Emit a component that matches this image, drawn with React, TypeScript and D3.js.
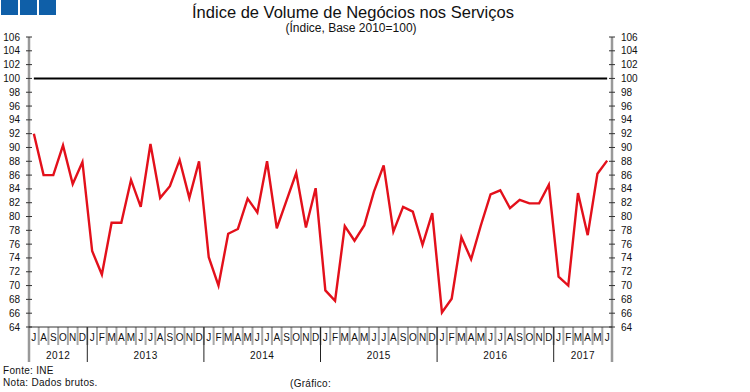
import * as d3 from 'd3';

const YEARS = ['2012', '2013', '2014', '2015', '2016', '2017'];
const MONTHS = ['J', 'F', 'M', 'A', 'M', 'J', 'J', 'A', 'S', 'O', 'N', 'D'];
// Jul 2012 .. Jun 2017
const VALUES = [
  92.0, 86.0, 86.0, 90.3, 84.7, 87.9,
  75.0, 71.6, 79.1, 79.1, 85.3, 81.4, 90.5, 82.7, 84.4, 88.2, 82.7, 88.0,
  74.1, 70.0, 77.5, 78.2, 82.6, 80.6, 88.0, 78.3, 82.3, 86.3, 78.4, 84.1,
  69.3, 67.8, 78.6, 76.5, 78.7, 83.6, 87.4, 77.8, 81.4, 80.7, 75.9, 80.5,
  66.1, 68.1, 77.0, 73.8, 78.7, 83.2, 83.8, 81.2, 82.4, 81.9, 81.9, 84.6,
  71.3, 70.0, 83.4, 77.3, 86.2, 88.1,
];
const Y_TICKS = d3.range(64, 107, 2);
const BASE = 100;

const FONT = '"Liberation Sans", Arial, sans-serif';

export default function App() {
  const width = 750;
  const height = 392;
  const left = 29;
  const right = 612;
  const top = 37;
  const bottom = 327;

  // month labels: Jul 2012 start
  const monthLabels = VALUES.map((_, i) => MONTHS[(i + 6) % 12]);
  const x = d3.scaleLinear().domain([0, VALUES.length]).range([left, right]);
  const y = d3.scaleLinear().domain([64, 106]).range([bottom, top]);

  const line = d3.line<number>()
    .x((_, i) => x(i + 0.5))
    .y(d => y(d));

  // year spans in month indexes
  const yearSpans = YEARS.map((yr, k) => {
    const start = k === 0 ? 0 : 6 + (k - 1) * 12;
    const end = k === 0 ? 6 : Math.min(start + 12, VALUES.length);
    return { yr, start, end };
  });

  return (
    <div style={{ position: 'absolute', left: 0, top: 0 }}>
      <svg width={width} height={height} style={{ display: 'block', background: '#fff' }}>
        {[0, 1, 2].map(k => (
          <rect key={k} x={1 + k * 19} y={0} width={17} height={15} fill="#0f5fa8" />
        ))}
        <text x={353} y={18} textAnchor="middle" fontFamily={FONT} fontSize={16.5} fill="#111">
          Índice de Volume de Negócios nos Serviços
        </text>
        <text x={351} y={32} textAnchor="middle" fontFamily={FONT} fontSize={12} fill="#111">
          (Índice, Base 2010=100)
        </text>

        {/* month dividers */}
        {d3.range(1, VALUES.length).map(i => (
          <line key={'m' + i} x1={x(i)} x2={x(i)} y1={bottom} y2={345} stroke="#a8a8a8" strokeWidth={2} />
        ))}
        {yearSpans.slice(1).map(s => (
          <line key={'yb' + s.yr} x1={x(s.start)} x2={x(s.start)} y1={bottom} y2={362} stroke="#222" strokeWidth={1} />
        ))}

        {/* axes */}
        <line x1={left} x2={left} y1={top} y2={362} stroke="#999" strokeWidth={2.5} />
        <line x1={right} x2={right} y1={top} y2={362} stroke="#999" strokeWidth={2.5} />
        <line x1={left} x2={right} y1={bottom} y2={bottom} stroke="#333" strokeWidth={1} />

        {Y_TICKS.map(t => (
          <g key={t}>
            <line x1={left - 3} x2={left + 3} y1={y(t)} y2={y(t)} stroke="#333" strokeWidth={1} />
            <line x1={right - 3} x2={right + 3} y1={y(t)} y2={y(t)} stroke="#333" strokeWidth={1} />
            <text x={20} y={y(t) + 3.5} textAnchor="end" fontFamily={FONT} fontSize={10} fill="#111">{t}</text>
            <text x={621} y={y(t) + 3.5} textAnchor="start" fontFamily={FONT} fontSize={10} fill="#111">{t}</text>
          </g>
        ))}

        <line x1={x(0.5)} x2={x(VALUES.length - 0.5)} y1={y(BASE)} y2={y(BASE)} stroke="#000" strokeWidth={2} />

        <path d={line(VALUES) || ''} fill="none" stroke="#e3101b" strokeWidth={2.4} strokeLinejoin="miter" />

        {monthLabels.map((m, i) => (
          <text key={'ml' + i} x={x(i + 0.5)} y={341} textAnchor="middle" fontFamily={FONT} fontSize={10} fill="#111">{m}</text>
        ))}
        {yearSpans.map(s => (
          <text key={'yl' + s.yr} x={x((s.start + s.end) / 2)} y={359} textAnchor="middle" fontFamily={FONT} fontSize={10} letterSpacing={0.5} fill="#111">{s.yr}</text>
        ))}

        <text x={3} y={374} fontFamily={FONT} fontSize={10} letterSpacing={0.3} fill="#111">Fonte: INE</text>
        <text x={3} y={386} fontFamily={FONT} fontSize={10} letterSpacing={0.3} fill="#111">Nota: Dados brutos.</text>
        <text x={290} y={387} fontFamily={FONT} fontSize={10} letterSpacing={0.3} fill="#111">(Gráfico:</text>
      </svg>
    </div>
  );
}
